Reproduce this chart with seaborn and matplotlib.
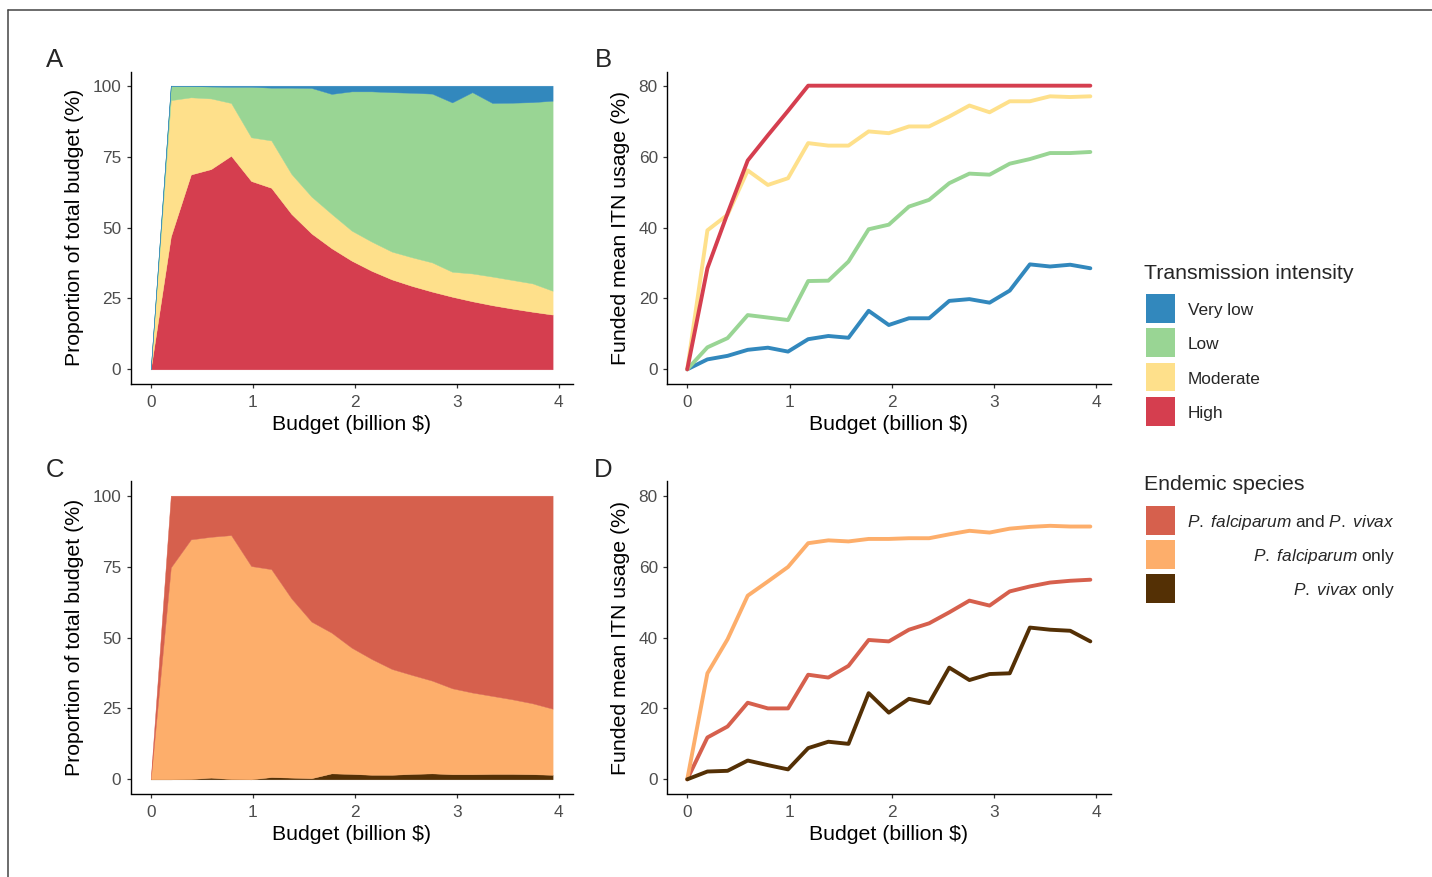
import matplotlib
matplotlib.use("Agg")
import matplotlib.pyplot as plt
from matplotlib.patches import Rectangle
from matplotlib.lines import Line2D
import numpy as np
import pandas as pd
import seaborn as sns

# ---------------------------------------------------------------- data
budget = [0.0, 0.197, 0.394, 0.591, 0.788, 0.985, 1.182, 1.379, 1.576, 1.773,
          1.97, 2.167, 2.364, 2.561, 2.758, 2.955, 3.152, 3.349, 3.546, 3.743, 3.94]

intensity_levels = ["Very low", "Low", "Moderate", "High"]
intensity_colors = ["#3288BD", "#99D594", "#FEE08B", "#D53E4F"]

# share of total budget (%) by transmission intensity
share_very_low = [0, 0, 0.1, 0.3, 0.4, 0.4, 0.7, 0.7, 0.8, 2.9, 2.0,
                  2.0, 2.3, 2.5, 2.8, 5.9, 2.3, 6.1, 6.0, 5.8, 5.3]
share_low = [0, 5.1, 4.0, 4.2, 5.7, 17.8, 18.6, 30.4, 38.3, 42.3, 49.1,
             53.0, 56.2, 58.0, 59.5, 59.7, 63.9, 61.2, 62.5, 63.9, 67.0]
share_moderate = [0, 48.1, 27.2, 24.9, 18.6, 15.4, 16.7, 14.1, 13.0, 12.1, 10.6,
                  10.3, 9.8, 10.1, 10.3, 8.8, 9.8, 10.1, 10.1, 10.0, 8.4]
share_high = [0, 46.8, 68.7, 70.6, 75.3, 66.4, 64.0, 54.8, 47.9, 42.7, 38.3,
              34.7, 31.7, 29.4, 27.4, 25.6, 24.0, 22.6, 21.4, 20.3, 19.3]

# funded mean ITN usage (%) by transmission intensity
itn_very_low = [0, 2.8, 3.8, 5.5, 6.1, 5.0, 8.5, 9.4, 8.9, 16.5, 12.5,
                14.4, 14.4, 19.3, 19.8, 18.8, 22.2, 29.6, 29.0, 29.5, 28.5]
itn_low = [0, 6.2, 8.8, 15.3, 14.6, 13.9, 24.9, 25.0, 30.4, 39.5, 40.8,
           45.9, 47.8, 52.5, 55.2, 54.9, 58.0, 59.3, 61.0, 61.0, 61.3]
itn_moderate = [0, 39.2, 43.6, 56.1, 52.0, 53.9, 63.8, 63.1, 63.1, 67.1, 66.6,
                68.5, 68.5, 71.3, 74.4, 72.5, 75.6, 75.6, 77.0, 76.8, 77.0]
itn_high = [0, 28.5, 44.0, 58.9, 66.0, 72.9, 80.0, 80.0, 80.0, 80.0, 80.0,
            80.0, 80.0, 80.0, 80.0, 80.0, 80.0, 80.0, 80.0, 80.0, 80.0]

species_levels = ["both", "falciparum", "vivax"]
species_colors = ["#D6604D", "#FDAE6B", "#543005"]

# share of total budget (%) by endemic species
share_both = [0, 25.3, 15.4, 14.5, 13.9, 24.8, 25.9, 36.2, 44.4, 48.3, 53.6,
              57.6, 61.1, 63.2, 65.2, 67.9, 69.4, 70.6, 71.8, 73.2, 75.1]
share_falciparum = [0, 74.7, 84.5, 84.9, 86.0, 75.2, 73.3, 63.2, 55.2, 49.6, 44.5,
                    40.8, 37.3, 34.9, 32.7, 30.3, 28.8, 27.5, 26.3, 25.0, 23.3]
share_vivax = [0, 0, 0.1, 0.6, 0.1, 0, 0.8, 0.6, 0.4, 2.1, 1.9,
               1.6, 1.6, 1.9, 2.1, 1.8, 1.8, 1.9, 1.9, 1.8, 1.6]

# funded mean ITN usage (%) by endemic species
itn_both = [0, 11.8, 14.9, 21.6, 20.0, 20.0, 29.5, 28.7, 32.0, 39.3, 38.9,
            42.2, 44.0, 47.1, 50.4, 49.0, 53.0, 54.4, 55.5, 56.0, 56.3]
itn_falciparum = [0, 29.9, 39.5, 51.8, 55.8, 59.9, 66.6, 67.4, 67.1, 67.8, 67.8,
                  68.0, 68.0, 69.1, 70.1, 69.6, 70.7, 71.2, 71.5, 71.3, 71.3]
itn_vivax = [0, 2.2, 2.4, 5.3, 4.0, 2.8, 8.8, 10.6, 10.0, 24.3, 18.8,
             22.7, 21.5, 31.5, 28.0, 29.7, 29.9, 42.8, 42.2, 41.9, 38.9]

x_ticks = [0, 1, 2, 3, 4]
share_ticks = [0, 25, 50, 75, 100]
itn_ticks = [0, 20, 40, 60, 80]

# ---------------------------------------------------------------- style
sns.set_style("ticks")
plt.rcParams["font.family"] = ["Liberation Sans", "DejaVu Sans"]
plt.rcParams["mathtext.fontset"] = "custom"
plt.rcParams["mathtext.rm"] = "Liberation Sans"
plt.rcParams["mathtext.it"] = "Liberation Sans:italic"

W, H = 1432, 877
fig = plt.figure(figsize=(W / 100, H / 100), dpi=100)
fig.patch.set_facecolor("white")


def px_rect(left, top, right, bottom):
    return [left / W, 1 - bottom / H, (right - left) / W, (bottom - top) / H]


axA = fig.add_axes(px_rect(130.6, 71.5, 572.7, 383.5))
axB = fig.add_axes(px_rect(667.1, 71.5, 1110.5, 383.5))
axC = fig.add_axes(px_rect(130.6, 481.5, 572.7, 793.5))
axD = fig.add_axes(px_rect(667.1, 481.5, 1110.5, 793.5))

TITLE_SIZE = 15.3
TICK_SIZE = 12.4


def style_axis(ax, yticks, ylim, ylabel):
    ax.set_xlim(-0.197, 4.137)
    ax.set_ylim(*ylim)
    ax.set_xticks(x_ticks)
    ax.set_yticks(yticks)
    ax.set_xlabel("Budget (billion $)", fontsize=TITLE_SIZE, labelpad=3.5, color="black")
    ax.set_ylabel(ylabel, fontsize=TITLE_SIZE, labelpad=6.5, color="black")
    sns.despine(ax=ax)
    for side in ("left", "bottom"):
        ax.spines[side].set_linewidth(1.0)
        ax.spines[side].set_color("black")
    ax.tick_params(axis="both", length=3.2, width=0.9, color="#333333",
                   labelsize=TICK_SIZE, labelcolor="#4D4D4D")
    ax.tick_params(axis="x", pad=5.0)
    ax.tick_params(axis="y", pad=3.5)
    ax.grid(False)
    ax.set_facecolor("white")


# ---------------------------------------------------------------- A: budget share by intensity
axA.stackplot(budget, share_high, share_moderate, share_low, share_very_low,
              colors=intensity_colors[::-1], edgecolor="face", linewidth=0.3)
style_axis(axA, share_ticks, (-5, 105), "Proportion of total budget (%)")

# ---------------------------------------------------------------- B: ITN usage by intensity
itn_int = pd.DataFrame({
    "budget": budget * 4,
    "usage": itn_very_low + itn_low + itn_moderate + itn_high,
    "intensity": np.repeat(intensity_levels, len(budget)),
})
sns.lineplot(data=itn_int, x="budget", y="usage", hue="intensity",
             hue_order=intensity_levels, palette=intensity_colors,
             linewidth=2.8, legend=False, ax=axB)
style_axis(axB, itn_ticks, (-4, 84), "Funded mean ITN usage (%)")

# ---------------------------------------------------------------- C: budget share by species
axC.stackplot(budget, share_vivax, share_falciparum, share_both,
              colors=species_colors[::-1], edgecolor="face", linewidth=0.3)
style_axis(axC, share_ticks, (-5, 105), "Proportion of total budget (%)")

# ---------------------------------------------------------------- D: ITN usage by species
itn_sp = pd.DataFrame({
    "budget": budget * 3,
    "usage": itn_both + itn_falciparum + itn_vivax,
    "species": np.repeat(species_levels, len(budget)),
})
sns.lineplot(data=itn_sp, x="budget", y="usage", hue="species",
             hue_order=species_levels, palette=species_colors,
             linewidth=2.8, legend=False, ax=axD)
style_axis(axD, itn_ticks, (-4, 84), "Funded mean ITN usage (%)")

# ---------------------------------------------------------------- panel tags
for tag, (tx, ty) in zip("ABCD", [(55, 60), (603, 60), (55, 470), (603, 470)]):
    fig.text(tx / W, 1 - ty / H, tag, fontsize=18.5, ha="center", va="center")

# ---------------------------------------------------------------- legends
KEY_L, KEY_W, KEY_H = 1146, 29, 28.5


def key(top, color):
    fig.add_artist(Rectangle((KEY_L / W, 1 - (top + KEY_H) / H), KEY_W / W, KEY_H / H,
                             transform=fig.transFigure, facecolor=color, edgecolor="none"))


fig.text(1144 / W, 1 - 279 / H, "Transmission intensity", fontsize=TITLE_SIZE,
         ha="left", va="baseline")
for i, (lab, col) in enumerate(zip(intensity_levels, intensity_colors)):
    top = 294 + i * 34.4
    key(top, col)
    fig.text(1188 / W, 1 - (top + KEY_H / 2 + 6.5) / H, lab, fontsize=TICK_SIZE,
             ha="left", va="baseline")

species_labels = [r"$\it{P.\ falciparum}$ and $\it{P.\ vivax}$",
                  r"$\it{P.\ falciparum}$ only",
                  r"$\it{P.\ vivax}$ only"]
fig.text(1144 / W, 1 - 490 / H, "Endemic species", fontsize=TITLE_SIZE,
         ha="left", va="baseline")
for i, (lab, col) in enumerate(zip(species_labels, species_colors)):
    top = 506 + i * 34.2
    key(top, col)
    fig.text(1395 / W, 1 - (top + KEY_H / 2 + 6.5) / H, lab, fontsize=TICK_SIZE,
             ha="right", va="baseline")

# ---------------------------------------------------------------- outer frame
frame_kw = dict(transform=fig.transFigure, color="#444444", linewidth=1.1)
fig.add_artist(Line2D([8 / W, 1], [1 - 10 / H, 1 - 10 / H], **frame_kw))
fig.add_artist(Line2D([8 / W, 8 / W], [1 - 10 / H, 0], **frame_kw))

fig.savefig("out.png", dpi=100, facecolor="white")
